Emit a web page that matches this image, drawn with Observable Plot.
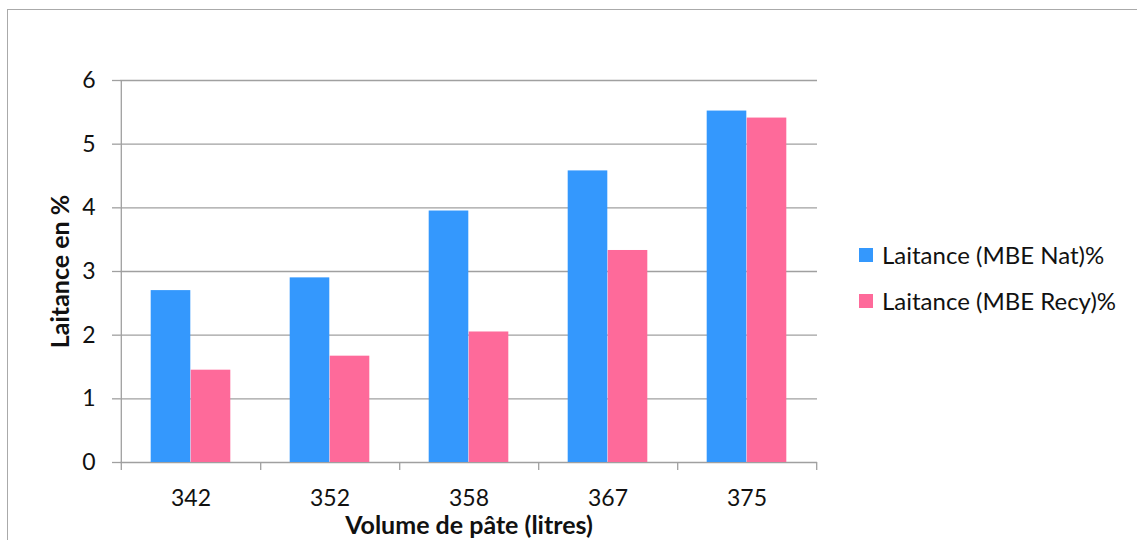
<!DOCTYPE html>
<html lang="fr">
<head>
<meta charset="utf-8">
<script src="https://cdn.jsdelivr.net/npm/d3@7"></script>
<script src="https://cdn.jsdelivr.net/npm/@observablehq/plot@0.6"></script>
<style>
  html, body { margin: 0; padding: 0; background: #ffffff; }
  #chart { position: relative; width: 1137px; height: 540px; overflow: hidden; font-family: Lato, "Open Sans", sans-serif; color: #111111; }
  #chart svg { position: absolute; left: 0; top: 0; overflow: visible; }
  #border { position: absolute; left: 7px; top: 9px; width: 1200px; height: 600px; border-top: 1.5px solid #aaaaaa; border-left: 1.5px solid #aaaaaa; box-sizing: border-box; }
  #legend { position: absolute; left: 859px; top: 241px; font-size: 24px; line-height: 28px; }
  #legend .item { display: flex; align-items: center; height: 28px; margin-bottom: 18px; white-space: nowrap; }
  #legend .swatch { width: 14px; height: 14px; margin-right: 9px; flex: none; }
</style>
</head>
<body>
<div id="chart">
  <div id="border"></div>
  <div id="legend"></div>
</div>
<script>
// Paste volume (litres) on the x axis, two series of laitance percentages.
const volumes = ["342", "352", "358", "367", "375"];
const seriesNames = ["Laitance (MBE Nat)%", "Laitance (MBE Recy)%"];
const natValues = [2.70, 2.90, 3.95, 4.58, 5.52];
const recyValues = [1.45, 1.67, 2.05, 3.33, 5.41];
const seriesColors = ["#3498fd", "#fe6a9a"];
const yTicks = [0, 1, 2, 3, 4, 5, 6];
const yTitle = "Laitance en %";
const xTitle = "Volume de pâte (litres)";

// Layout
const W = 1137, H = 540;
const marginLeft = 120, marginRight = 320, marginTop = 80, marginBottom = 78;
const bw = (W - marginLeft - marginRight) / volumes.length;   // width of one category band
const barW = bw * 0.287;                                        // width of one bar
const pad = bw / 2 - barW;
const gridColor = "#a0a0a0";
const textColor = "#111111";

const natRows = volumes.map((v, i) => ({volume: v, series: seriesNames[0], value: natValues[i]}));
const recyRows = volumes.map((v, i) => ({volume: v, series: seriesNames[1], value: recyValues[i]}));

const chart = Plot.plot({
  width: W,
  height: H,
  marginLeft, marginRight, marginTop, marginBottom,
  style: {fontFamily: "Lato, 'Open Sans', sans-serif", fontSize: "23px", color: textColor, background: "transparent"},
  x: {domain: volumes, padding: 0, axis: null},
  y: {domain: [0, 6], axis: null},
  color: {domain: seriesNames, range: seriesColors},
  marks: [
    Plot.gridY(yTicks, {stroke: gridColor, strokeOpacity: 1, strokeWidth: 1.3}),
    Plot.axisY(yTicks, {tickSize: 8, tickPadding: 17, tickFormat: d => String(d), stroke: gridColor, strokeWidth: 1.3, fill: textColor, fontSize: 23, label: null}),
    // vertical axis line, running slightly below the baseline
    Plot.ruleX([volumes[0]], {x: d => d, dx: -bw / 2, y1: 6, y2: 0, insetBottom: -8, stroke: gridColor, strokeWidth: 1.3}),
    // category separators below the baseline
    Plot.ruleX(volumes, {x: d => d, dx: bw / 2, y1: 0, y2: 0, insetBottom: -8, stroke: gridColor, strokeWidth: 1.3}),
    Plot.barY(natRows, {x: "volume", y: "value", fill: "series", insetLeft: pad, insetRight: bw / 2}),
    Plot.barY(recyRows, {x: "volume", y: "value", fill: "series", insetLeft: bw / 2, insetRight: pad}),
    Plot.axisX({tickSize: 0, tickPadding: 27, fill: textColor, fontSize: 23, label: null}),
    Plot.text([yTitle], {frameAnchor: "left", textAnchor: "middle", lineAnchor: "middle", rotate: -90, dx: -60, fontWeight: "bold", fontSize: 25, fill: textColor}),
    Plot.text([xTitle], {frameAnchor: "bottom", textAnchor: "middle", lineAnchor: "middle", dy: 63, fontWeight: "bold", fontSize: 25, fill: textColor})
  ]
});
document.getElementById("chart").appendChild(chart);

// Legend to the right of the plot area
const legend = document.getElementById("legend");
seriesNames.forEach((name, i) => {
  const item = document.createElement("div");
  item.className = "item";
  const sw = document.createElement("span");
  sw.className = "swatch";
  sw.style.background = seriesColors[i];
  const label = document.createElement("span");
  label.textContent = name;
  item.appendChild(sw);
  item.appendChild(label);
  legend.appendChild(item);
});
</script>
</body>
</html>
